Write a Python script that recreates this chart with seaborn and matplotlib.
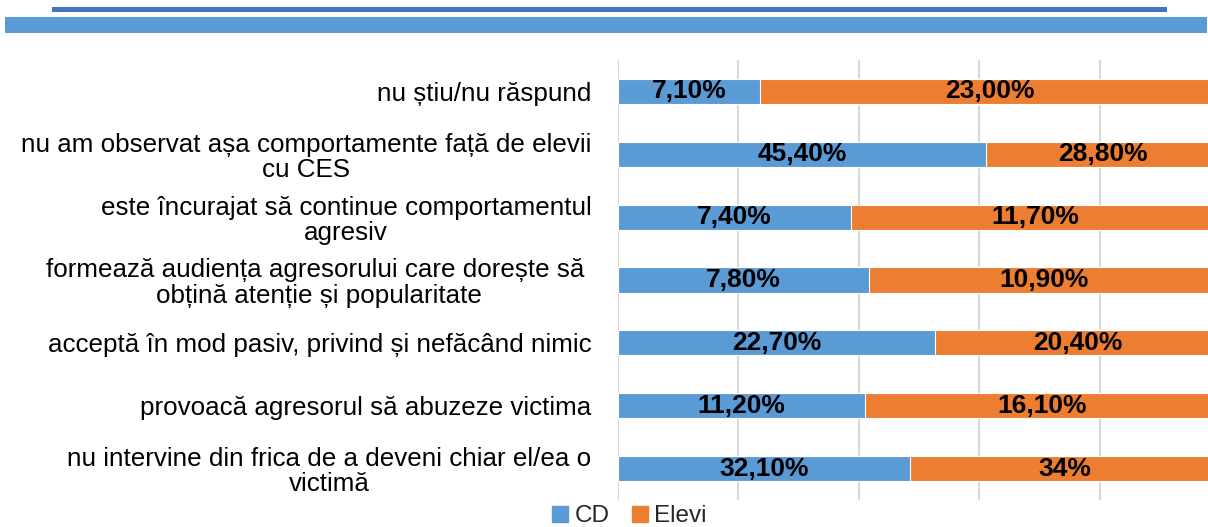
import pandas as pd
import matplotlib.pyplot as plt
import seaborn as sns
from matplotlib.patches import Rectangle
from matplotlib.lines import Line2D

# --- Data ---
categories = [
    "nu știu/nu răspund",
    "nu am observat așa comportamente față de elevii\ncu CES",
    "este încurajat să continue comportamentul\nagresiv",
    "formează audiența agresorului care dorește să \nobțină atenție și popularitate",
    "acceptă în mod pasiv, privind și nefăcând nimic",
    "provoacă agresorul să abuzeze victima",
    "nu intervine din frica de a deveni chiar el/ea o\nvictimă",
]
cd_values = [7.1, 45.4, 7.4, 7.8, 22.7, 11.2, 32.1]
elevi_values = [23.0, 28.8, 11.7, 10.9, 20.4, 16.1, 34.0]
cd_labels = ["7,10%", "45,40%", "7,40%", "7,80%", "22,70%", "11,20%", "32,10%"]
elevi_labels = ["23,00%", "28,80%", "11,70%", "10,90%", "20,40%", "16,10%", "34%"]

BLUE = "#5B9BD5"
ORANGE = "#ED7D31"

sns.set_theme(style="white")
plt.rcParams["font.family"] = ["Liberation Sans", "DejaVu Sans"]

df = pd.DataFrame({"cat": categories, "cd": cd_values, "elevi": elevi_values})
df["total"] = df["cd"] + df["elevi"]
df["cd_share"] = df["cd"] / df["total"]
df["full"] = 1.0

fig = plt.figure(figsize=(12.08, 5.27), dpi=100)
W, H = 1208, 527
ax = fig.add_axes([618 / W, 1 - 500 / H, 602 / W, 440 / H])

# 100% stacked: full bar in orange, CD share in blue on top
sns.barplot(data=df, y="cat", x="full", color=ORANGE, width=0.4, orient="h",
            edgecolor="white", linewidth=0.8, saturation=1, ax=ax)
sns.barplot(data=df, y="cat", x="cd_share", color=BLUE, width=0.4, orient="h",
            edgecolor="white", linewidth=0.8, saturation=1, ax=ax)

for i, row in df.iterrows():
    s = row["cd_share"]
    ax.text(s / 2, i, cd_labels[i], ha="center", va="center",
            fontsize=19, fontweight="bold", color="black")
    ax.text(s + (1 - s) / 2, i, elevi_labels[i], ha="center", va="center",
            fontsize=19, fontweight="bold", color="black")

ax.set_xlim(0, 1)
ax.set_ylim(6.5, -0.5)
ax.set_xticks([0, 0.2, 0.4, 0.6, 0.8, 1.0])
ax.set_xticklabels([])
ax.grid(axis="x", color="#d9d9d9", linewidth=1.5)
ax.set_axisbelow(True)
ax.set_xlabel("")
ax.set_ylabel("")
for sp in ax.spines.values():
    sp.set_visible(False)
ax.tick_params(axis="y", length=0, pad=19, labelsize=18.7, labelcolor="black")
for lbl in ax.get_yticklabels():
    lbl.set_multialignment("center")
    lbl.set_linespacing(1.07)

# --- Decorative header bars ---
fig.add_artist(Rectangle((52 / W, 1 - 12 / H), (1167 - 52) / W, 5 / H,
                         transform=fig.transFigure, color="#4472C4", lw=0))
fig.add_artist(Rectangle((5 / W, 1 - 33 / H), (1207 - 5) / W, 16 / H,
                         transform=fig.transFigure, color=BLUE, lw=0))

# --- Legend ---
handles = [
    Line2D([], [], marker="s", linestyle="", color=BLUE, markersize=11),
    Line2D([], [], marker="s", linestyle="", color=ORANGE, markersize=11),
]
fig.legend(handles, ["CD", "Elevi"], loc="center", ncol=2,
           bbox_to_anchor=(629 / W, 1 - 516 / H), frameon=False,
           fontsize=17.5, handlelength=0.7, handletextpad=0.25, columnspacing=0.9,
           borderpad=0)

fig.savefig("out.png", dpi=100)
